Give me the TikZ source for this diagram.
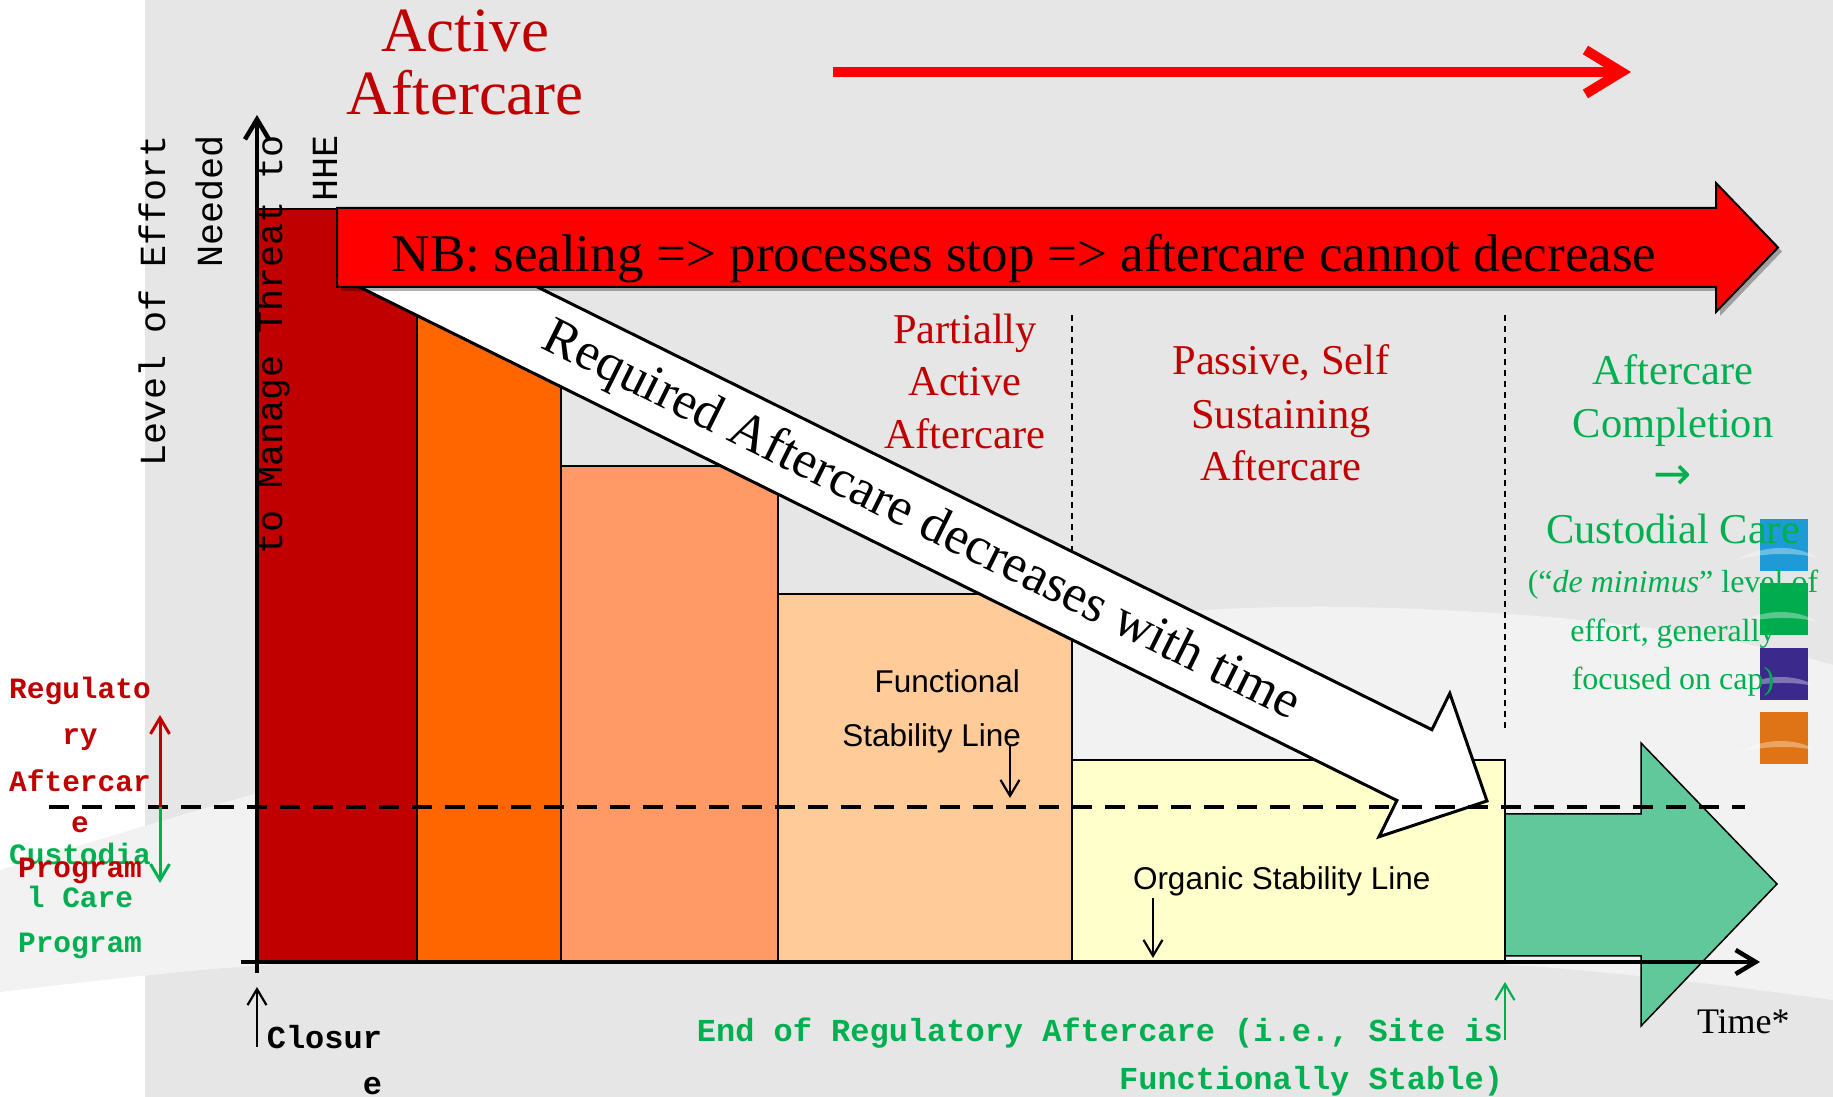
\documentclass[tikz,border=0pt]{standalone}
\usepackage{fontspec}
\setmainfont{Liberation Serif}
\newfontfamily\sansf{Liberation Sans}
\newfontfamily\monof{Liberation Mono}
\newfontfamily\arrowf{DejaVu Sans}
\usetikzlibrary{arrows.meta}
\definecolor{bggray}{RGB}{230,230,230}
\definecolor{bglight}{RGB}{242,242,242}
\definecolor{darkred}{RGB}{192,0,0}
\definecolor{barA}{RGB}{192,0,0}
\definecolor{barB}{RGB}{255,102,0}
\definecolor{barC}{RGB}{255,153,102}
\definecolor{barD}{RGB}{255,204,153}
\definecolor{barE}{RGB}{255,255,204}
\definecolor{arrowgreen}{RGB}{96,200,155}
\definecolor{txtgreen}{RGB}{0,176,80}
\definecolor{logoblue}{RGB}{30,155,215}
\definecolor{logogreen}{RGB}{0,172,78}
\definecolor{logopurple}{RGB}{59,42,140}
\definecolor{logoorange}{RGB}{222,116,21}
\newcommand\myfs[2]{\fontsize{#1}{#2}\selectfont}
\begin{document}
\begin{tikzpicture}[x=0.1mm,y=-0.1mm,
  lbl/.style={inner sep=0pt, outer sep=0pt, anchor=base},
  barbox/.style={draw=black, line width=0.15mm},
  dotline/.style={draw=black, line width=0.15mm, dash pattern=on 0.6mm off 0.5mm},
  axisline/.style={draw=black, line width=0.45mm, -{Straight Barb[length=2mm,width=2.4mm]}},
  thinarrow/.style={line width=0.22mm, -{Straight Barb[length=1.6mm,width=1.9mm]}},
  redtitle/.style={lbl, text=darkred, font=\myfs{17.92pt}{17.92pt}},
  phase/.style={lbl, text=darkred, font=\myfs{12.09pt}{12.09pt}},
  greenphase/.style={lbl, text=txtgreen, font=\myfs{12.09pt}{12.09pt}},
  greensmall/.style={lbl, text=txtgreen, font=\myfs{9.1pt}{9.1pt}},
  ylab/.style={inner sep=0pt, outer sep=0pt, rotate=90, anchor=base east, font=\monof\myfs{10.47pt}{10.47pt}},
  leftred/.style={lbl, text=darkred, font=\monof\bfseries\myfs{8.39pt}{8.39pt}},
  leftgreen/.style={lbl, text=txtgreen, font=\monof\bfseries\myfs{8.39pt}{8.39pt}},
  monoblack/.style={inner sep=0pt, outer sep=0pt, anchor=base east, font=\monof\bfseries\myfs{9.1pt}{9.1pt}},
  monogreen/.style={inner sep=0pt, outer sep=0pt, anchor=base east, text=txtgreen, font=\monof\bfseries\myfs{9.1pt}{9.1pt}},
  sanslab/.style={inner sep=0pt, outer sep=0pt, font=\sansf\myfs{8.96pt}{8.96pt}},
  logoswoosh/.style={fill=white, fill opacity=0.35}
]
\useasboundingbox (0,0) rectangle (1833,1097);
% background
\fill[white] (0,0) rectangle (1833,1097);
\fill[bggray] (145,0) rectangle (1833,1097);
\fill[bglight] (0,870) .. controls (450,730) and (950,600) .. (1350,607)
  .. controls (1600,612) and (1750,640) .. (1833,665) -- (1833,1000)
  .. controls (1650,975) and (1500,958) .. (1300,958) -- (400,958)
  .. controls (250,962) and (100,980) .. (0,992) -- cycle;
% dotted separators
\coordinate (dA1) at (1072,315); \coordinate (dA2) at (1072,594);
\coordinate (dB1) at (1505,315); \coordinate (dB2) at (1505,728);
\draw[dotline] (dA1) -- (dA2);
\draw[dotline] (dB1) -- (dB2);
% bars
\draw[barbox, fill=barA] (257,962) rectangle (417,209);
\draw[barbox, fill=barB] (417,962) rectangle (561,313);
\draw[barbox, fill=barC] (561,962) rectangle (778,466);
\draw[barbox, fill=barD] (778,962) rectangle (1072,594);
\draw[barbox, fill=barE] (1072,962) rectangle (1505,760);
% green block arrow
\draw[barbox, fill=arrowgreen] (1505,814) -- (1641,814) -- (1641,743) -- (1777,884)
  -- (1641,1026) -- (1641,956) -- (1505,956) -- cycle;
% logo squares
\foreach \c/\yt in {logoblue/519, logogreen/583, logopurple/648, logoorange/712}{
  \fill[\c] (1760,\yt) rectangle (1808,\yt+52);
  \fill[logoswoosh] (1738,\yt+40) .. controls (1765,\yt+26) and (1795,\yt+25) .. (1818,\yt+39)
     .. controls (1795,\yt+33) and (1765,\yt+34) .. (1738,\yt+40) -- cycle;
}
% phase labels
\node[phase] (pa1) at (965,344) {Partially};
\node[phase] (pa2) at (965,396) {Active};
\node[phase] (pa3) at (965,449) {Aftercare};
\node[phase] (ps1) at (1281,375) {Passive, Self};
\node[phase] (ps2) at (1281,429) {Sustaining};
\node[phase] (ps3) at (1281,481) {Aftercare};
\node[greenphase] (ac1) at (1673,385) {Aftercare};
\node[greenphase] (ac2) at (1673,438) {Completion};
\node[greenphase, font=\arrowf\myfs{13pt}{13pt}] (ac3) at (1673,490) {→};
\node[greenphase] (ac4) at (1673,544) {Custodial Care};
\node[greensmall] (cs1) at (1673,593) {(“\textit{de minimus}” level of};
\node[greensmall] (cs2) at (1673,642) {effort, generally};
\node[greensmall] (cs3) at (1673,690) {focused on cap)};
% white block arrow
\coordinate (wa1) at (380,209.1);
\coordinate (wa2) at (1431.9,729.7);
\coordinate (wa3) at (1449.8,693.4);
\coordinate (wa4) at (1487,801);
\coordinate (wa5) at (1379,836.8);
\coordinate (wa6) at (1396.9,800.5);
\coordinate (wa7) at (345,279.9);
\draw[fill=white, draw=black, line width=0.3mm, line join=miter] (wa1) -- (wa2) -- (wa3) -- (wa4) -- (wa5) -- (wa6) -- (wa7) -- cycle;
\node[inner sep=0pt, rotate=-26.4, font=\myfs{15.08pt}{15.08pt}] (watext) at (921,522) {Required Aftercare decreases with time};
% red banner
\fill[black, opacity=0.3] (341,212) -- (1720,212) -- (1720,187) -- (1782,251.5) -- (1720,316) -- (1720,291) -- (341,291) -- cycle;
\draw[fill=red, draw=black, line width=0.2mm] (337,208) -- (1716,208) -- (1716,183) -- (1778,247.5)
  -- (1716,312) -- (1716,287) -- (337,287) -- cycle;
\node[lbl, font=\myfs{15.08pt}{15.08pt}] (nb) at (1024,272) {NB: sealing => processes stop => aftercare cannot decrease};
% top title and arrow
\node[redtitle] (t1) at (465,52) {Active};
\node[redtitle] (t2) at (465,115) {Aftercare};
\coordinate (ra1) at (833,72); \coordinate (ra2) at (1631,72);
\draw[red, line width=1mm, -{Straight Barb[length=3.6mm,width=4.4mm]}] (ra1) -- (ra2);
% dashed threshold line
\coordinate (dl1) at (49,807); \coordinate (dl2) at (1745,807);
\draw[line width=0.4mm, dash pattern=on 2mm off 1.3mm] (dl1) -- (dl2);
% axes
\coordinate (yb) at (257,973); \coordinate (yt) at (257,115);
\coordinate (xl) at (241,962); \coordinate (xr) at (1760,962);
\draw[axisline] (yb) -- (yt);
\draw[axisline] (xl) -- (xr);
% y-axis label
\node[ylab] (y1) at (165,135) {Level of Effort};
\node[ylab] (y2) at (222,135) {Needed};
\node[ylab] (y3) at (282,135) {to Manage Threat to};
\node[ylab] (y4) at (337,135) {HHE};
% left labels
\coordinate (lr0) at (160,807); \coordinate (lr1) at (160,715); \coordinate (lg1) at (160,883);
\draw[thinarrow, darkred, line width=0.3mm] (lr0) -- (lr1);
\draw[thinarrow, txtgreen, line width=0.3mm] (lr0) -- (lg1);
\node[leftred] (r1) at (80,699) {Regulato};
\node[leftred] (r2) at (80,745) {ry};
\node[leftred] (r3) at (80,792) {Aftercar};
\node[leftred] (r4) at (80,833) {e};
\node[leftgreen] (g1) at (80,865) {Custodia};
\node[leftred] (r5) at (80,878) {Program};
\node[leftgreen] (g2) at (80,908) {l Care};
\node[leftgreen] (g3) at (80,953) {Program};
% closure
\coordinate (cl0) at (257,1047); \coordinate (cl1) at (257,987);
\draw[thinarrow] (cl0) -- (cl1);
\node[monoblack] (cz1) at (382,1049) {Closur};
\node[monoblack] (cz2) at (382,1095) {e};
% end of regulatory aftercare
\coordinate (er0) at (1505,1040); \coordinate (er1) at (1505,982);
\draw[thinarrow, txtgreen] (er0) -- (er1);
\node[monogreen] (e1) at (1503,1042) {End of Regulatory Aftercare (i.e., Site is};
\node[monogreen] (e2) at (1503,1090) {Functionally Stable)};
% time
\node[lbl, anchor=base west, font=\myfs{10.24pt}{10.24pt}] (time) at (1697,1034) {Time*};
% stability lines
\node[sanslab, anchor=base east] (f1) at (1020,693) {Functional};
\node[sanslab, anchor=base east] (f2) at (1021,747) {Stability Line};
\coordinate (fa0) at (1010,745); \coordinate (fa1) at (1010,798);
\draw[thinarrow] (fa0) -- (fa1);
\node[sanslab, anchor=base west] (o1) at (1133,890) {Organic Stability Line};
\coordinate (oa0) at (1153,898); \coordinate (oa1) at (1153,958);
\draw[thinarrow] (oa0) -- (oa1);
\end{tikzpicture}
\end{document}
